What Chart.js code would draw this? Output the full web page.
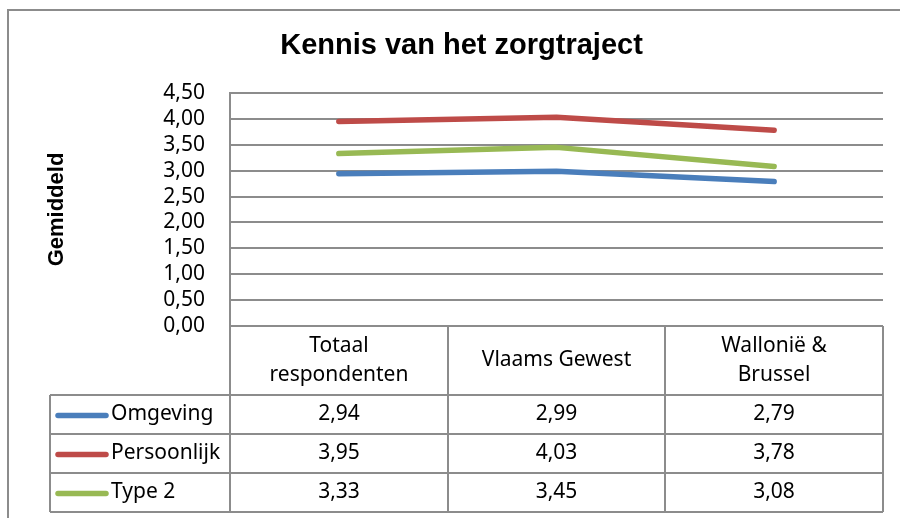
<!DOCTYPE html>
<html>
<head>
<meta charset="utf-8">
<script src="https://cdn.jsdelivr.net/npm/chart.js@4.4.1/dist/chart.umd.min.js"></script>
<style>
	html, body { margin: 0; padding: 0; background: #fff; }
</style>
</head>
<body>
<canvas id="chart" width="900" height="518"></canvas>
<script>
// data
const categories = [['Totaal', 'respondenten'], ['Vlaams Gewest'], ['Wallonië &', 'Brussel']];
const seriesNames = ['Omgeving', 'Persoonlijk', 'Type 2'];
const omgeving = [2.94, 2.99, 2.79];
const persoonlijk = [3.95, 4.03, 3.78];
const type2 = [3.33, 3.45, 3.08];
const yTickValues = [0, 0.5, 1, 1.5, 2, 2.5, 3, 3.5, 4, 4.5];

const seriesColors = ['#4a7ebb', '#be4b48', '#98b954'];
const gridColor = '#8c8c8c';
const textFont = '"Noto Sans", sans-serif';
const boldFont = '"Liberation Sans", Arial, sans-serif';

function fmt(v) {
	return v.toFixed(2).replace('.', ',');
}

// outer frame + data table under the plot
const dataTable = {
	id: 'dataTable',
	beforeDraw(chart) {
		const ctx = chart.ctx;
		ctx.save();
		ctx.strokeStyle = gridColor;
		ctx.lineWidth = 2;
		ctx.beginPath();
		ctx.moveTo(8, 600);
		ctx.lineTo(8, 10);
		ctx.lineTo(1000, 10);
		ctx.stroke();
		ctx.restore();
	},
	afterDraw(chart) {
		const ctx = chart.ctx;
		const a = chart.chartArea;
		const x = chart.scales.x;
		const n = categories.length;
		const edges = [a.left];
		for (let i = 1; i < n; i++) {
			edges.push(Math.round((x.getPixelForValue(i - 1) + x.getPixelForValue(i)) / 2));
		}
		edges.push(a.right);

		const headTop = a.bottom;
		const headBottom = headTop + 69;
		const rowH = 39;
		const legendLeft = 50;
		const sets = chart.data.datasets;
		const tableBottom = headBottom + rowH * sets.length;

		ctx.save();
		ctx.strokeStyle = gridColor;
		ctx.lineWidth = 2;
		ctx.beginPath();
		// header top + verticals
		ctx.moveTo(a.left, headTop);
		ctx.lineTo(a.right, headTop);
		edges.forEach(e => {
			ctx.moveTo(e, headTop);
			ctx.lineTo(e, tableBottom);
		});
		// row lines
		for (let r = 0; r <= sets.length; r++) {
			const y = headBottom + r * rowH;
			ctx.moveTo(legendLeft, y);
			ctx.lineTo(a.right, y);
		}
		ctx.moveTo(legendLeft, headBottom);
		ctx.lineTo(legendLeft, tableBottom);
		ctx.stroke();

		ctx.fillStyle = '#000';
		ctx.font = '21px ' + textFont;
		ctx.textAlign = 'center';
		ctx.textBaseline = 'middle';
		// header labels
		categories.forEach((lines, i) => {
			const cx = (edges[i] + edges[i + 1]) / 2;
			const cy = (headTop + headBottom) / 2;
			const lh = 29;
			lines.forEach((t, k) => {
				ctx.fillText(t, cx, cy + (k - (lines.length - 1) / 2) * lh);
			});
		});
		// rows
		sets.forEach((ds, r) => {
			const cy = headBottom + r * rowH + rowH / 2;
			ctx.strokeStyle = ds.borderColor;
			ctx.lineWidth = 5.5;
			ctx.lineCap = 'round';
			ctx.beginPath();
			ctx.moveTo(58, cy + 1);
			ctx.lineTo(106, cy + 1);
			ctx.stroke();
			ctx.textAlign = 'left';
			ctx.fillText(ds.label, 111, cy);
			ctx.textAlign = 'center';
			ds.data.forEach((v, i) => {
				ctx.fillText(fmt(v), (edges[i] + edges[i + 1]) / 2, cy);
			});
		});
		ctx.restore();
	}
};

const seriesData = [omgeving, persoonlijk, type2];

new Chart(document.getElementById('chart'), {
	type: 'line',
	data: {
		labels: categories,
		datasets: seriesNames.map((name, i) => ({
			label: name,
			data: seriesData[i],
			borderColor: seriesColors[i],
			backgroundColor: seriesColors[i],
			borderWidth: 5.5,
			borderCapStyle: 'round',
			borderJoinStyle: 'round',
			pointRadius: 0,
			pointHoverRadius: 0,
			lineTension: 0,
			fill: false
		}))
	},
	options: {
		responsive: false,
		animation: false,
		layout: {
			padding: { left: 40, right: 17, top: 0, bottom: 192 }
		},
		plugins: {
			legend: { display: false },
			tooltip: { enabled: false },
			title: {
				display: true,
				text: 'Kennis van het zorgtraject',
				color: '#000',
				font: { family: boldFont, size: 29, weight: 'bold' },
				padding: { top: 29, bottom: 29.2 }
			}
		},
		scales: {
			x: {
				display: false,
				offset: true
			},
			y: {
				min: 0,
				max: 4.5,
				afterFit(scale) { scale.width = 190; },
				afterBuildTicks(scale) {
					scale.ticks = yTickValues.map(v => ({ value: v }));
				},
				ticks: {
					color: '#000',
					padding: 25,
					autoSkip: false,
					font: { family: textFont, size: 21 },
					callback: v => fmt(v)
				},
				grid: {
					color: gridColor,
					lineWidth: 2,
					drawTicks: false
				},
				border: { display: true, color: gridColor, width: 2 },
				title: {
					display: true,
					text: 'Gemiddeld',
					color: '#000',
					font: { family: boldFont, size: 22, weight: 'bold' }
				}
			}
		}
	},
	plugins: [dataTable]
});
</script>
</body>
</html>
